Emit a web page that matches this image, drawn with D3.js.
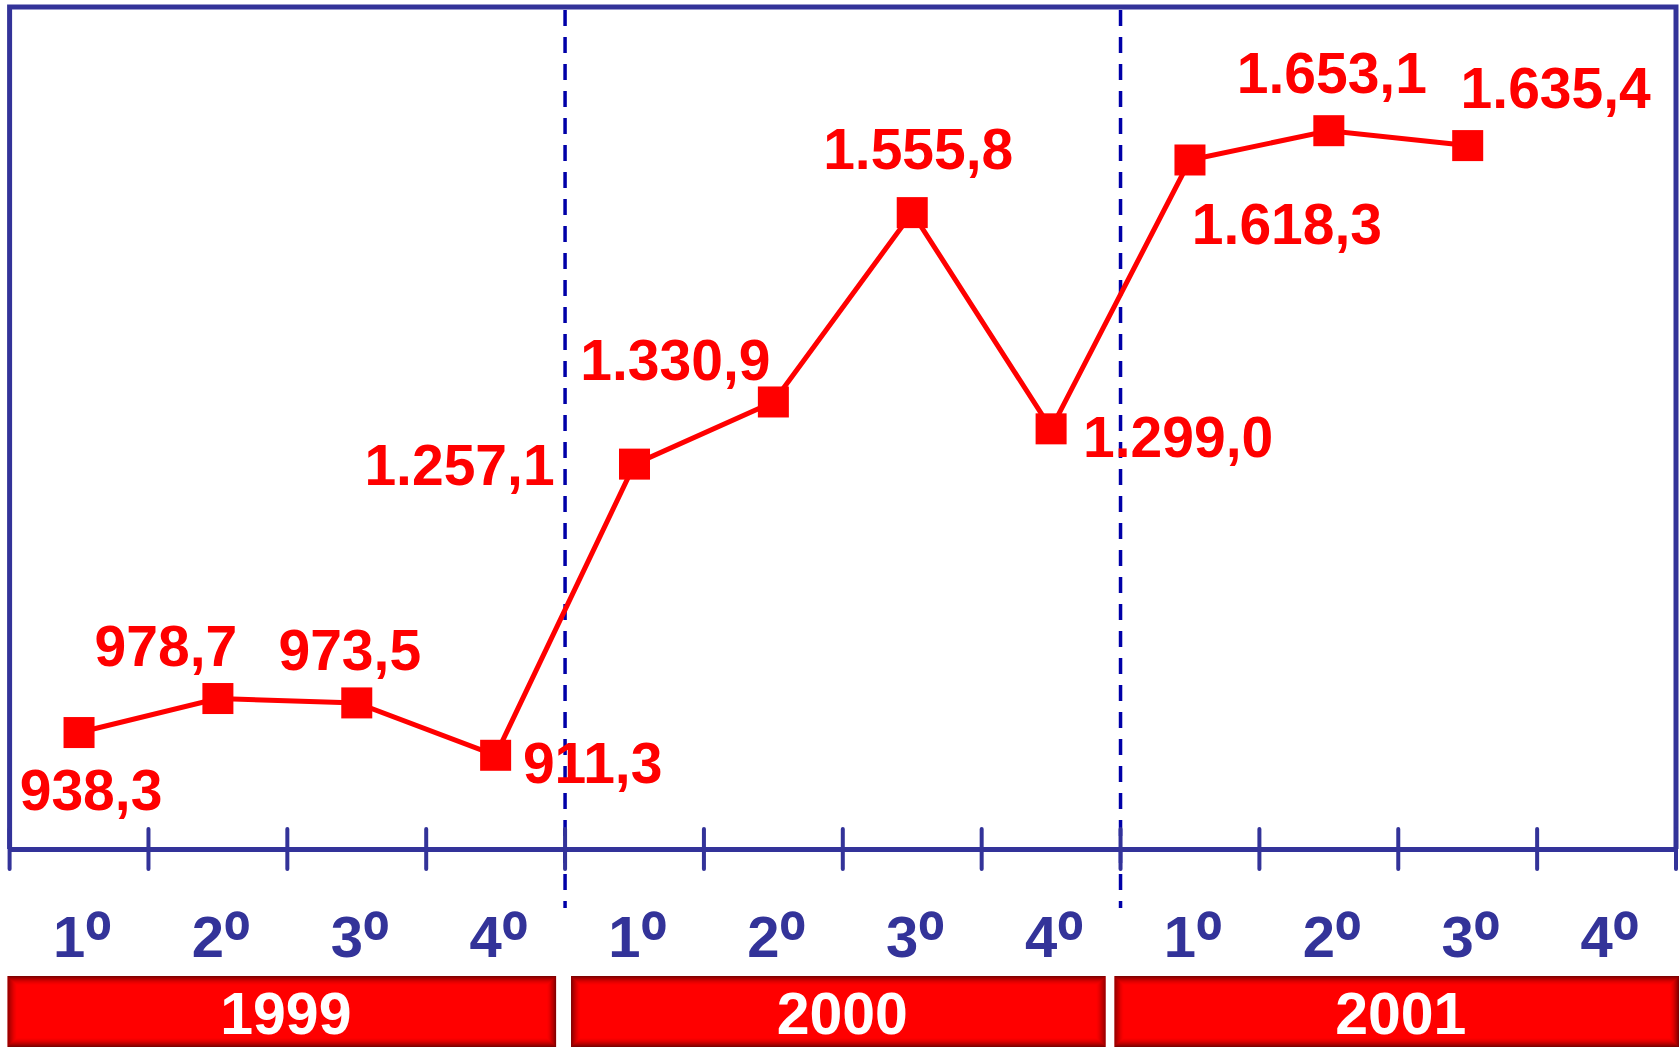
<!DOCTYPE html>
<html><head><meta charset="utf-8">
<script src="https://cdn.jsdelivr.net/npm/d3@7"></script>
<style>html,body{margin:0;padding:0;background:#fff;overflow:hidden}</style>
</head><body>
<svg id="chart" width="1679" height="1047"></svg>
<script>
// ---- data ----
const years = ["1999", "2000", "2001"];
const quarterLabels = ["1", "2", "3", "4"];
const values = [938.3, 978.7, 973.5, 911.3, 1257.1, 1330.9, 1555.8, 1299.0, 1618.3, 1653.1, 1635.4];
const valueLabels = ["938,3", "978,7", "973,5", "911,3", "1.257,1", "1.330,9", "1.555,8", "1.299,0", "1.618,3", "1.653,1", "1.635,4"];

// ---- layout (label placement relative to each point) ----
const labelDx = [12, -52, -7, 97, -175, -98, 6, 127, 97, 3, 88];
const labelDy = [77, -33, -33, 28, 21, -22, -44, 28, 84, -38, -38];
const boxInset = [[-2, -9], [6, -15], [-6, 3]];

const svg = d3.select("#chart");
const plotLeft = 9.6, plotRight = 1676, plotTop = 7, axisY = 849;
const nQ = years.length * quarterLabels.length;
const slots = d3.range(nQ);

const x = d3.scaleBand().domain(slots).range([plotLeft, plotRight]).paddingInner(0).paddingOuter(0);
const y = d3.scaleLinear().domain([800, 1800]).range([axisY, plotTop]);
const blue = "#333399";
const font = "'Liberation Sans', Arial, sans-serif";

svg.append("path")
  .attr("d", `M${plotLeft},${axisY}V${plotTop}H${plotRight}V${axisY}`)
  .attr("fill", "none").attr("stroke", blue).attr("stroke-width", 5);

const sepIdx = [4, 8];
svg.selectAll(".sep").data(sepIdx).enter().append("line")
  .attr("x1", d => x(d)).attr("x2", d => x(d))
  .attr("y1", plotTop + 3).attr("y2", 908)
  .attr("stroke", "#0000a8").attr("stroke-width", 3.5)
  .attr("stroke-dasharray", "16,11");

const edgeScale = d3.scaleLinear().domain([0, nQ]).range([plotLeft, plotRight]);
const axis = d3.axisBottom(edgeScale).tickValues(d3.range(nQ + 1)).tickSize(0).tickFormat("");
const ax = svg.append("g").attr("transform", `translate(0,${axisY})`).call(axis);
ax.select(".domain").attr("stroke", blue).attr("stroke-width", 5);
svg.selectAll(".tk").data(d3.range(nQ + 1)).enter().append("line")
  .attr("x1", d => edgeScale(d)).attr("x2", d => edgeScale(d))
  .attr("y1", axisY - 20).attr("y2", axisY + 20)
  .attr("stroke", blue).attr("stroke-width", 4).attr("stroke-linecap", "round");

// quarter labels
const qData = slots.map(i => ({i, q: quarterLabels[i % 4]}));
const qt = svg.selectAll(".ql").data(qData).enter().append("text")
  .attr("x", d => x(d.i) + x.bandwidth() / 2 + 3)
  .attr("y", 957)
  .attr("text-anchor", "middle")
  .attr("font-family", font).attr("font-weight", "bold")
  .attr("font-size", 58).attr("fill", blue);
qt.append("tspan").text(d => d.q);
qt.append("tspan")
  .attr("font-size", 84)
  .attr("dy", 13)
  .attr("textLength", 26)
  .attr("lengthAdjust", "spacingAndGlyphs")
  .text("º");

const pts = values.map((v, i) => ({v, i}));
svg.append("path").datum(pts)
  .attr("d", d3.line().x(d => x(d.i) + x.bandwidth() / 2).y(d => y(d.v)))
  .attr("fill", "none").attr("stroke", "#ff0000").attr("stroke-width", 5);
svg.selectAll(".mk").data(pts).enter().append("rect")
  .attr("x", d => x(d.i) + x.bandwidth() / 2 - 15.5)
  .attr("y", d => y(d.v) - 15.5)
  .attr("width", 31).attr("height", 31).attr("fill", "#ff0000");

svg.selectAll(".vl").data(pts).enter().append("text")
  .attr("x", d => x(d.i) + x.bandwidth() / 2 + labelDx[d.i])
  .attr("y", d => y(d.v) + labelDy[d.i])
  .attr("text-anchor", "middle")
  .attr("font-family", font).attr("font-weight", "bold")
  .attr("font-size", 57).attr("fill", "#ff0000")
  .text(d => valueLabels[d.i]);

const boxTop = 976, boxBottom = 1047;
years.forEach((yr, k) => {
  const x0 = x(k * 4) + boxInset[k][0];
  const x1 = x(k * 4 + 3) + x.bandwidth() + boxInset[k][1];
  const g = svg.append("g");
  g.append("rect").attr("x", x0).attr("y", boxTop).attr("width", x1 - x0).attr("height", boxBottom - boxTop)
    .attr("fill", "#ff0000");
  const n = 9;
  for (let j = 0; j < n; j++) {
    g.append("rect")
      .attr("x", x0 + j + 0.5).attr("y", boxTop + j + 0.5)
      .attr("width", x1 - x0 - 2 * j - 1).attr("height", boxBottom - boxTop - 2 * j - 1)
      .attr("fill", "none").attr("stroke", "#6a0000")
      .attr("stroke-opacity", Math.pow(1 - j / n, 1.6) * 0.85).attr("stroke-width", 1);
  }
  g.append("text")
    .attr("x", (x0 + x1) / 2 + 4).attr("y", 1034)
    .attr("text-anchor", "middle")
    .attr("font-family", font).attr("font-weight", "bold")
    .attr("font-size", 59).attr("fill", "#ffffff")
    .text(yr);
});
</script>
</body></html>
